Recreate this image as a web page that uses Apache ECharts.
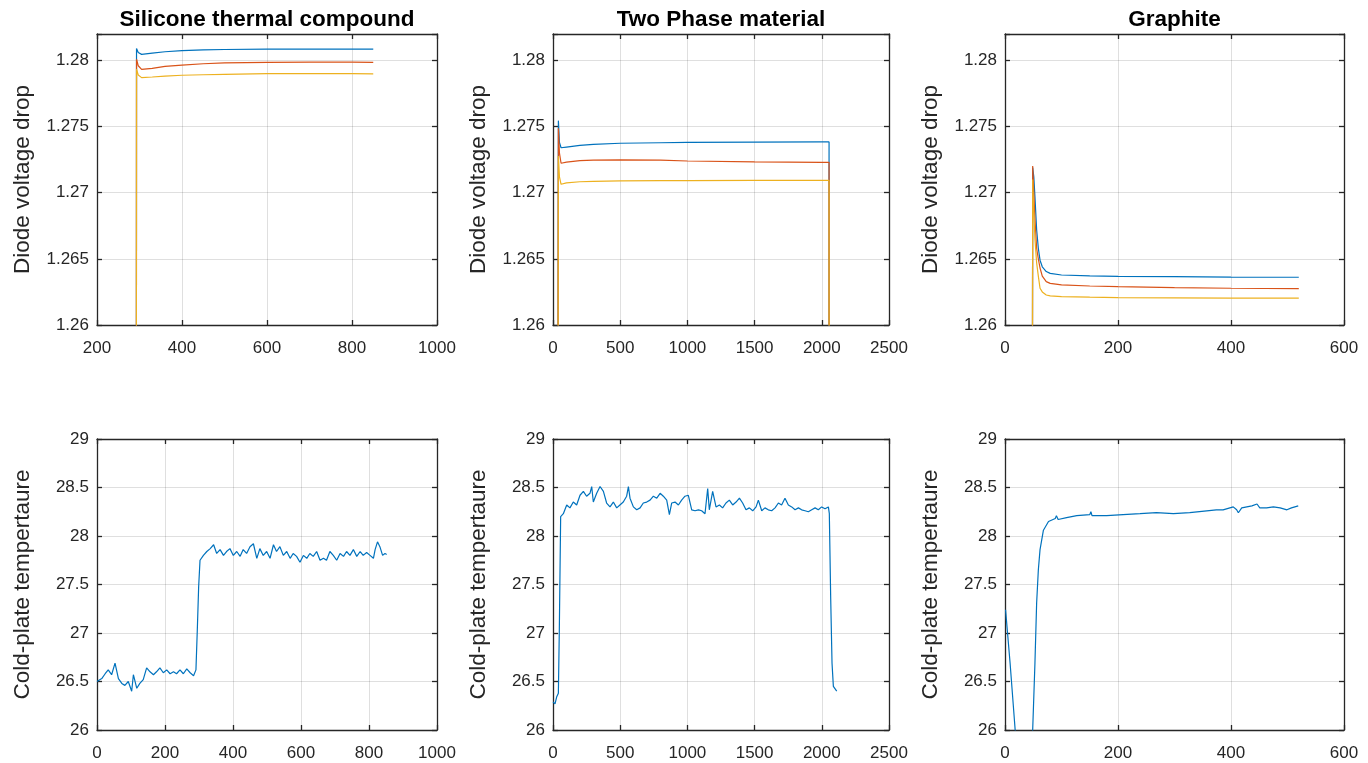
<!DOCTYPE html>
<html>
<head>
<meta charset="utf-8">
<script src="https://cdn.jsdelivr.net/npm/echarts@6/dist/echarts.min.js"></script>
<style>html,body{margin:0;padding:0;background:#fff;}#c{width:1368px;height:763px;}</style>
</head>
<body>
<div id="c"></div>
<script>
// ---------- Titles / axis names ----------
const panelTitles = ['Silicone thermal compound', 'Two Phase material', 'Graphite'];
const voltName = 'Diode voltage drop';
const tempName = 'Cold-plate tempertaure';

// ---------- Silicone thermal compound : diode voltage ----------
const silVoltX      = [280, 292, 293, 297, 305, 330, 360, 400, 450, 500, 600, 700, 800, 850];
const silVoltBlue   = [1.20, 1.20, 1.2809, 1.2806, 1.28046, 1.28056, 1.28066, 1.28074, 1.28080, 1.28083, 1.28085, 1.28086, 1.28086, 1.28086];
const silVoltRed    = [1.20, 1.20, 1.2801, 1.2796, 1.27932, 1.27940, 1.27955, 1.27965, 1.27975, 1.27982, 1.27986, 1.27988, 1.27987, 1.27986];
const silVoltYellow = [1.20, 1.20, 1.27935, 1.2789, 1.2787, 1.27875, 1.27882, 1.27888, 1.27892, 1.27895, 1.27900, 1.27900, 1.27900, 1.27899];

// ---------- Two Phase material : diode voltage ----------
const tpVoltX      = [30, 39, 40, 48, 60, 100, 200, 300, 500, 800, 1000, 1500, 2000, 2054, 2055];
const tpVoltBlue   = [1.20, 1.20, 1.27545, 1.2738, 1.2734, 1.27345, 1.27358, 1.27366, 1.27374, 1.27378, 1.27380, 1.27382, 1.27384, 1.27384, 1.20];
const tpVoltRed    = [1.20, 1.20, 1.27487, 1.2730, 1.27223, 1.27232, 1.27243, 1.27246, 1.27248, 1.27246, 1.27240, 1.27233, 1.27230, 1.27230, 1.20];
const tpVoltYellow = [1.20, 1.20, 1.27278, 1.2712, 1.27064, 1.27075, 1.27083, 1.27086, 1.27089, 1.27091, 1.27092, 1.27093, 1.27094, 1.27094, 1.20];

// ---------- Graphite : diode voltage ----------
const grVoltX      = [40, 47, 49, 51, 53, 56, 59, 62, 66, 73, 80, 100, 150, 200, 300, 400, 520];
const grVoltBlue   = [1.20, 1.20, 1.2719, 1.2712, 1.2697, 1.2672, 1.2658, 1.2649, 1.2644, 1.26404, 1.2639, 1.26378, 1.26372, 1.26368, 1.26365, 1.26362, 1.26361];
const grVoltRed    = [1.20, 1.20, 1.27202, 1.2700, 1.2680, 1.2658, 1.2650, 1.26431, 1.2637, 1.26328, 1.26315, 1.26303, 1.26295, 1.26290, 1.26283, 1.26278, 1.26275];
const grVoltYellow = [1.20, 1.20, 1.2710, 1.2685, 1.2665, 1.2647, 1.2637, 1.26278, 1.2625, 1.26227, 1.26220, 1.26215, 1.26210, 1.26207, 1.26205, 1.26203, 1.26203];

// ---------- Cold-plate temperature ----------
const silTempX = [0,4,14,24,33,43,53,63,73,82,92,102,107,117,126,136,146,156,166,175,185,195,205,215,225,234,244,254,264,274,284,291,295,299,303,313,323,333,343,352,362,372,381,391,401,411,421,430,440,450,460,470,479,489,499,509,519,528,538,548,558,568,577,587,597,607,617,626,636,646,656,666,675,685,695,705,715,725,734,744,754,764,774,783,793,803,813,818,825,832,840,847,852];
const silTempY = [26.50,26.48,26.53,26.58,26.62,26.57,26.69,26.53,26.48,26.46,26.50,26.40,26.57,26.43,26.48,26.52,26.64,26.60,26.57,26.60,26.64,26.59,26.62,26.58,26.60,26.58,26.62,26.58,26.63,26.59,26.56,26.62,27.03,27.48,27.75,27.80,27.84,27.87,27.91,27.82,27.86,27.80,27.84,27.87,27.80,27.84,27.79,27.86,27.82,27.89,27.92,27.77,27.87,27.80,27.84,27.77,27.91,27.84,27.89,27.80,27.84,27.77,27.82,27.79,27.73,27.80,27.77,27.82,27.79,27.84,27.75,27.77,27.75,27.84,27.80,27.75,27.82,27.79,27.84,27.80,27.86,27.79,27.84,27.80,27.83,27.80,27.77,27.86,27.94,27.89,27.80,27.82,27.81];

const tpTempX = [0,15,27,40,47,57,77,102,126,151,176,201,226,250,275,288,300,325,350,375,399,424,449,474,498,523,548,561,573,598,623,648,672,697,722,747,772,797,821,846,866,883,908,933,957,982,1007,1032,1057,1082,1106,1131,1151,1163,1188,1213,1238,1262,1287,1312,1337,1362,1387,1411,1436,1461,1486,1511,1528,1553,1577,1602,1627,1652,1677,1701,1726,1751,1776,1801,1826,1850,1875,1900,1925,1950,1974,1999,2024,2049,2056,2066,2076,2086,2098,2111];
const tpTempY = [26.29,26.27,26.34,26.38,27.03,28.20,28.23,28.32,28.29,28.35,28.32,28.42,28.46,28.41,28.44,28.51,28.35,28.44,28.51,28.46,28.34,28.30,28.35,28.29,28.32,28.35,28.41,28.51,28.39,28.30,28.27,28.29,28.34,28.35,28.37,28.41,28.39,28.44,28.41,28.37,28.22,28.34,28.35,28.32,28.37,28.41,28.42,28.27,28.26,28.27,28.26,28.23,28.49,28.27,28.46,28.30,28.32,28.29,28.34,28.37,28.32,28.35,28.39,28.34,28.27,28.29,28.26,28.30,28.37,28.26,28.29,28.27,28.26,28.29,28.34,28.32,28.39,28.32,28.30,28.27,28.29,28.27,28.26,28.25,28.27,28.29,28.27,28.30,28.28,28.30,28.23,27.37,26.69,26.45,26.43,26.40];

const grTempX = [1,9,18,33,49,53,56,59,62,68,77,89,91,94,109,127,150,152,154,180,209,239,268,298,327,357,374,386,398,404,410,413,419,428,437,446,451,463,475,487,499,507,513,519];
const grTempY = [27.24,26.69,26.00,25.40,26.00,26.69,27.31,27.65,27.86,28.06,28.15,28.18,28.21,28.17,28.19,28.21,28.22,28.25,28.21,28.21,28.22,28.23,28.24,28.23,28.24,28.26,28.27,28.27,28.29,28.30,28.27,28.24,28.29,28.30,28.31,28.33,28.29,28.29,28.30,28.29,28.27,28.29,28.30,28.31];

// ---------- Axis ranges / ticks ----------
const xRanges = [[200, 1000, 200], [0, 2500, 500], [0, 600, 200], [0, 1000, 200], [0, 2500, 500], [0, 600, 200]];
const voltRange = [1.26, 1.282, 0.005];
const tempRange = [26, 29, 0.5];

// ---------- Build chart ----------
const FONT = '"Liberation Sans", Arial, Helvetica, sans-serif';
const AX = '#262626';
const C1 = '#0072BD', C2 = '#D95319', C3 = '#EDB120';
const zip = (xs, ys) => xs.map((x, i) => [x, ys[i]]);

const layout = [
  {left: 97,   top: 34,  width: 340, height: 291},
  {left: 553,  top: 34,  width: 336, height: 291},
  {left: 1005, top: 34,  width: 339, height: 291},
  {left: 97,   top: 439, width: 340, height: 291},
  {left: 553,  top: 439, width: 336, height: 291},
  {left: 1005, top: 439, width: 339, height: 291}
];

const grids = layout.map(l => ({left: l.left, top: l.top, width: l.width, height: l.height, containLabel: false}));
const xAxes = [], yAxes = [];
const axLine = () => ({show: true, onZero: false, lineStyle: {color: AX, width: 1.3}});
const tick = () => ({show: true, inside: true, length: 5, lineStyle: {color: AX, width: 1.3}});
const gridLine = () => ({show: true, lineStyle: {color: 'rgba(38,38,38,0.15)', width: 1}});
const lbl = (extra) => Object.assign({color: AX, fontSize: 17, fontFamily: FONT}, extra);

function yFmt(step) {
  return function (v) {
    const k = v / step;
    if (Math.abs(k - Math.round(k)) > 1e-6) return '';
    return String(Math.round(v * 1000) / 1000);
  };
}

layout.forEach((l, i) => {
  const xr = xRanges[i];
  const yr = i < 3 ? voltRange : tempRange;
  xAxes.push({type: 'value', gridIndex: i, position: 'bottom', min: xr[0], max: xr[1], interval: xr[2],
    axisLine: axLine(), axisTick: tick(), splitLine: gridLine(),
    axisLabel: lbl({margin: 15, formatter: v => String(v)})});
  xAxes.push({type: 'value', gridIndex: i, position: 'top', min: xr[0], max: xr[1], interval: xr[2],
    axisLine: axLine(), axisTick: tick(), splitLine: {show: false}, axisLabel: {show: false}});
  yAxes.push({type: 'value', gridIndex: i, position: 'left', min: yr[0], max: yr[1], interval: yr[2],
    axisLine: axLine(), axisTick: tick(), splitLine: gridLine(),
    axisLabel: lbl({margin: 8, formatter: yFmt(yr[2])}),
    name: i < 3 ? voltName : tempName, nameLocation: 'middle', nameGap: 63,
    nameTextStyle: {color: AX, fontSize: 22.5, fontFamily: FONT}});
  yAxes.push({type: 'value', gridIndex: i, position: 'right', min: yr[0], max: yr[1], interval: yr[2],
    axisLine: axLine(), axisTick: tick(), splitLine: {show: false}, axisLabel: {show: false}});
});

function ln(gi, data, color) {
  return {type: 'line', xAxisIndex: gi * 2, yAxisIndex: gi * 2, data: data, showSymbol: false, symbol: 'none',
    clip: true, animation: false, silent: true, lineStyle: {color: color, width: 1.2}, z: 3};
}

const series = [
  ln(0, zip(silVoltX, silVoltBlue), C1), ln(0, zip(silVoltX, silVoltRed), C2), ln(0, zip(silVoltX, silVoltYellow), C3),
  ln(1, zip(tpVoltX, tpVoltBlue), C1), ln(1, zip(tpVoltX, tpVoltRed), C2), ln(1, zip(tpVoltX, tpVoltYellow), C3),
  ln(2, zip(grVoltX, grVoltBlue), C1), ln(2, zip(grVoltX, grVoltRed), C2), ln(2, zip(grVoltX, grVoltYellow), C3),
  ln(3, zip(silTempX, silTempY), C1),
  ln(4, zip(tpTempX, tpTempY), C1),
  ln(5, zip(grTempX, grTempY), C1)
];

const titles = panelTitles.map((t, i) => ({
  text: t, left: layout[i].left + layout[i].width / 2, top: 8, textAlign: 'center', padding: 0,
  textStyle: {fontSize: 22.5, fontWeight: 'bold', color: '#000', fontFamily: FONT}
}));

const chart = echarts.init(document.getElementById('c'), null, {renderer: 'canvas'});
chart.setOption({
  backgroundColor: '#fff',
  animation: false,
  title: titles,
  grid: grids,
  xAxis: xAxes,
  yAxis: yAxes,
  series: series
});
</script>
</body>
</html>
